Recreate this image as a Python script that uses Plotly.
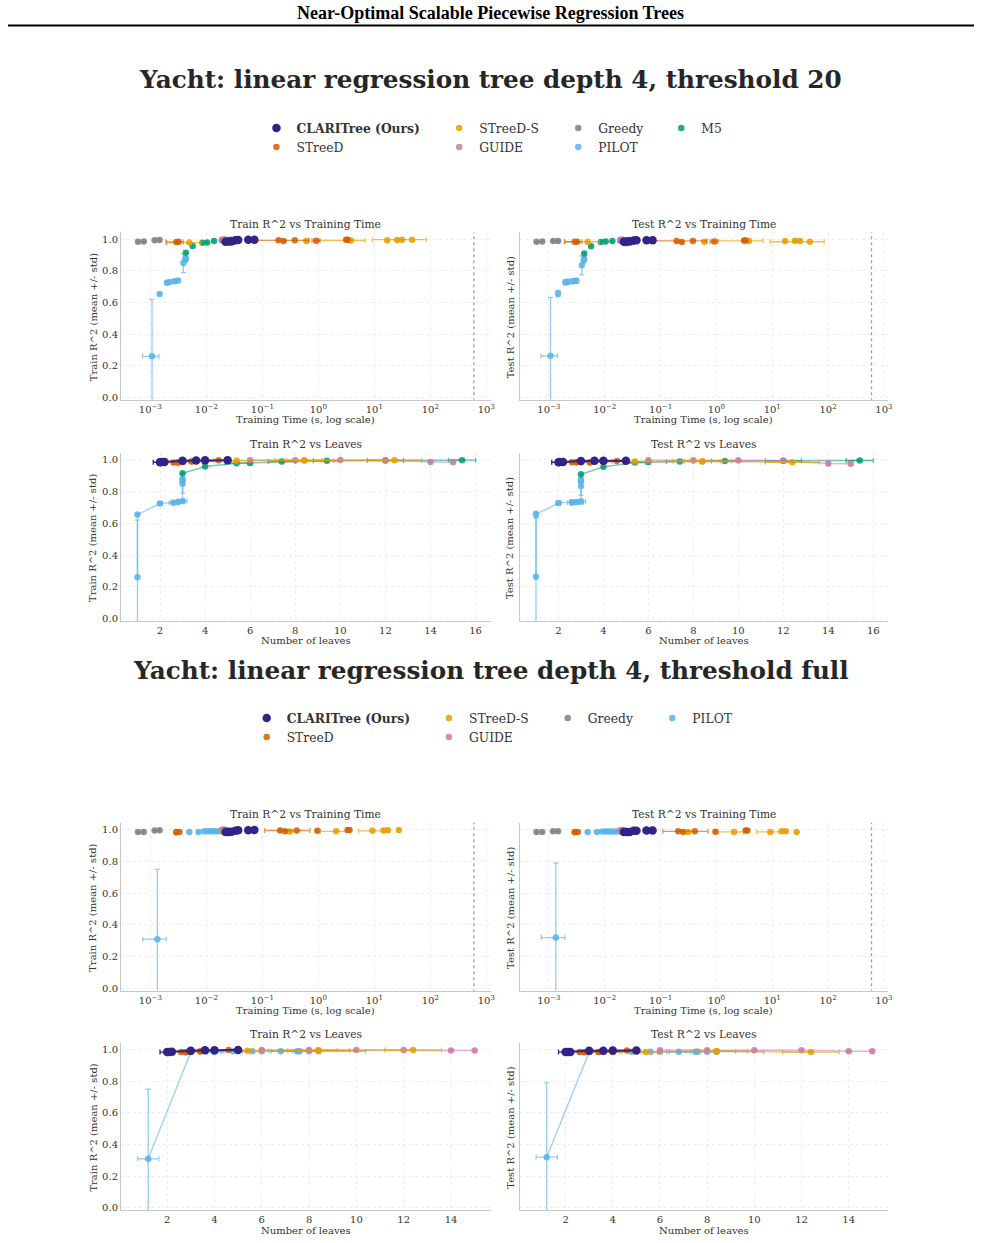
import plotly.graph_objects as go

W, H = 985, 1243

# ------------------------------------------------------------------
# Section 1: threshold 20  (leaves, leaves sd, time [s], time sd, train R2, sd, test R2, sd)
# ------------------------------------------------------------------
S1_CLARI_LEAVES = [2.0, 2.05, 2.2, 3.0, 3.6, 4.0, 5.0]
S1_CLARI_LEAVES_SD = [0.3, 0.0, 0.0, 0.0, 0.0, 0.0, 0.0]
S1_CLARI_TIME = [0.022, 0.025, 0.028, 0.033, 0.037, 0.056, 0.072]
S1_CLARI_TIME_SD = [0, 0, 0, 0, 0, 0, 0]
S1_CLARI_TRAIN = [0.985, 0.986, 0.987, 0.994, 0.996, 0.997, 0.998]
S1_CLARI_TRAIN_SD = [0, 0, 0, 0, 0, 0, 0]
S1_CLARI_TEST = [0.985, 0.986, 0.986, 0.993, 0.994, 0.995, 0.995]
S1_CLARI_TEST_SD = [0, 0, 0, 0, 0, 0, 0]

S1_STREED_LEAVES = [2.6, 2.8, 3.0, 3.4, 3.6, 4.0, 4.6, 5.0]
S1_STREED_LEAVES_SD = [0, 0, 0, 0, 0, 0, 0, 0]
S1_STREED_TIME = [0.0029, 0.0032, 0.194, 0.24, 0.38, 0.92, 3.13, 3.34]
S1_STREED_TIME_SD = [0.001, 0, 0, 0, 0.3, 0.15, 0, 0]
S1_STREED_TRAIN = [0.984, 0.985, 0.994, 0.99, 0.994, 0.992, 0.998, 0.998]
S1_STREED_TRAIN_SD = [0, 0, 0, 0, 0, 0, 0, 0]
S1_STREED_TEST = [0.985, 0.985, 0.99, 0.984, 0.99, 0.986, 0.993, 0.993]
S1_STREED_TEST_SD = [0, 0, 0, 0, 0, 0, 0, 0]

S1_STREEDS_LEAVES = [2.8, 3.0, 3.4, 4.0, 5.4, 8.4, 8.4, 12.4]
S1_STREEDS_LEAVES_SD = [0.3, 0, 0.3, 0.4, 0.5, 1.3, 0.8, 1.2]
S1_STREEDS_TIME = [0.00495, 0.031, 0.61, 3.83, 17.0, 25.6, 31.4, 47.2]
S1_STREEDS_TIME_SD = [0.003, 0, 0, 3.0, 0, 0, 0, 38.0]
S1_STREEDS_TRAIN = [0.98, 0.985, 0.99, 0.993, 0.995, 0.996, 0.997, 0.998]
S1_STREEDS_TRAIN_SD = [0, 0, 0, 0, 0, 0, 0, 0]
S1_STREEDS_TEST = [0.985, 0.985, 0.985, 0.99, 0.99, 0.992, 0.99, 0.985]
S1_STREEDS_TEST_SD = [0, 0, 0, 0, 0, 0, 0, 0]

S1_GUIDE_LEAVES = [6, 8, 10, 12, 14, 15]
S1_GUIDE_LEAVES_SD = [0, 0, 0, 0, 0, 0]
S1_GUIDE_TIME = [0.019, 0.020, 0.021, 0.022, 0.023, 0.024]
S1_GUIDE_TIME_SD = [0, 0, 0, 0, 0, 0]
S1_GUIDE_TRAIN = [0.998, 0.998, 0.999, 0.997, 0.987, 0.985]
S1_GUIDE_TRAIN_SD = [0, 0, 0, 0, 0.005, 0.005]
S1_GUIDE_TEST = [0.998, 0.998, 0.998, 0.995, 0.977, 0.975]
S1_GUIDE_TEST_SD = [0, 0, 0, 0, 0.01, 0.01]

S1_GREEDY_LEAVES = [2.0, 2.2, 3.0, 4.0]
S1_GREEDY_LEAVES_SD = [0, 0, 0, 0]
S1_GREEDY_TIME = [0.00060, 0.00076, 0.00119, 0.00146]
S1_GREEDY_TIME_SD = [0, 0, 0, 0]
S1_GREEDY_TRAIN = [0.985, 0.986, 0.995, 0.996]
S1_GREEDY_TRAIN_SD = [0, 0, 0, 0]
S1_GREEDY_TEST = [0.985, 0.986, 0.99, 0.99]
S1_GREEDY_TEST_SD = [0, 0, 0, 0]

S1_PILOT_LEAVES = [1.0, 1.0, 2.0, 2.6, 2.8, 3.0, 3.0, 3.0, 3.0]
S1_PILOT_LEAVES_SD = [0, 0, 0.1, 0.2, 0.3, 0.2, 0, 0, 0]
S1_PILOT_TIME = [0.00107, 0.00146, 0.00197, 0.00219, 0.00269, 0.00312, 0.00388, 0.0042, 0.0043]
S1_PILOT_TIME_SD = [0.00035, 0, 0, 0, 0, 0, 0, 0, 0]
S1_PILOT_TRAIN = [0.26, 0.655, 0.725, 0.73, 0.735, 0.74, 0.85, 0.87, 0.88]
S1_PILOT_TRAIN_SD = [0.36, 0.005, 0.01, 0.01, 0.01, 0.01, 0.06, 0.01, 0.01]
S1_PILOT_TEST = [0.263, 0.657, 0.728, 0.732, 0.735, 0.738, 0.836, 0.866, 0.874]
S1_PILOT_TEST_SD = [0.37, 0.02, 0.015, 0.015, 0.015, 0.015, 0.06, 0.01, 0.01]

S1_M5_LEAVES = [3, 4, 5.4, 6, 7.4, 9.4, 12, 15.4]
S1_M5_LEAVES_SD = [0, 0, 0.5, 0, 0.6, 0.6, 0.8, 0.6]
S1_M5_TIME = [0.0043, 0.0057, 0.0085, 0.0104, 0.0137, 0.019, 0.023, 0.028]
S1_M5_TIME_SD = [0, 0, 0, 0, 0, 0, 0, 0]
S1_M5_TRAIN = [0.916, 0.958, 0.979, 0.981, 0.99, 0.994, 0.996, 0.998]
S1_M5_TRAIN_SD = [0, 0, 0, 0, 0, 0, 0, 0]
S1_M5_TEST = [0.91, 0.956, 0.983, 0.986, 0.99, 0.993, 0.994, 0.996]
S1_M5_TEST_SD = [0, 0, 0, 0, 0, 0, 0, 0]

# ------------------------------------------------------------------
# Section 2: threshold full
# ------------------------------------------------------------------
S2_CLARI_LEAVES = [2.0, 2.1, 2.2, 3.0, 3.6, 4.0, 5.0]
S2_CLARI_LEAVES_SD = [0.3, 0.0, 0.0, 0.0, 0.0, 0.0, 0.0]
S2_CLARI_TIME = [0.022, 0.025, 0.028, 0.033, 0.037, 0.056, 0.072]
S2_CLARI_TIME_SD = [0, 0, 0, 0, 0, 0, 0]
S2_CLARI_TRAIN = [0.985, 0.986, 0.987, 0.994, 0.996, 0.997, 0.998]
S2_CLARI_TRAIN_SD = [0, 0, 0, 0, 0, 0, 0]
S2_CLARI_TEST = [0.985, 0.986, 0.986, 0.993, 0.994, 0.995, 0.995]
S2_CLARI_TEST_SD = [0, 0, 0, 0, 0, 0, 0]

S2_STREED_LEAVES = [2.6, 2.8, 3.0, 3.4, 3.6, 4.0, 4.6, 5.0]
S2_STREED_LEAVES_SD = [0, 0, 0, 0, 0, 0, 0, 0]
S2_STREED_TIME = [0.0029, 0.0033, 0.207, 0.254, 0.41, 0.96, 3.34, 3.6]
S2_STREED_TIME_SD = [0, 0, 0, 0, 0.3, 0, 0, 0]
S2_STREED_TRAIN = [0.985, 0.986, 0.995, 0.99, 0.995, 0.993, 0.998, 0.998]
S2_STREED_TRAIN_SD = [0, 0, 0, 0, 0, 0, 0, 0]
S2_STREED_TEST = [0.985, 0.986, 0.99, 0.986, 0.99, 0.987, 0.995, 0.995]
S2_STREED_TEST_SD = [0, 0, 0, 0, 0, 0, 0, 0]

S2_STREEDS_LEAVES = [2.8, 3.0, 3.4, 4.0, 5.4, 8.4, 8.4, 12.4]
S2_STREEDS_LEAVES_SD = [0.3, 0, 0.3, 0.4, 0.5, 1.3, 0.8, 1.2]
S2_STREEDS_TIME = [0.0029, 0.02, 0.31, 2.08, 9.25, 14.8, 17.5, 27.4]
S2_STREEDS_TIME_SD = [0, 0, 0, 1.0, 4.0, 0, 0, 0]
S2_STREEDS_TRAIN = [0.982, 0.985, 0.988, 0.99, 0.993, 0.995, 0.997, 0.998]
S2_STREEDS_TRAIN_SD = [0, 0, 0, 0, 0, 0, 0, 0]
S2_STREEDS_TEST = [0.984, 0.985, 0.985, 0.986, 0.986, 0.99, 0.99, 0.985]
S2_STREEDS_TEST_SD = [0, 0, 0, 0, 0, 0, 0, 0]

S2_GUIDE_LEAVES = [6, 8, 10, 12, 14, 15]
S2_GUIDE_LEAVES_SD = [0, 0, 0, 0, 0, 0]
S2_GUIDE_TIME = [0.019, 0.020, 0.021, 0.022, 0.023, 0.024]
S2_GUIDE_TIME_SD = [0, 0, 0, 0, 0, 0]
S2_GUIDE_TRAIN = [0.999, 0.999, 0.999, 0.999, 0.995, 0.995]
S2_GUIDE_TRAIN_SD = [0, 0, 0, 0, 0, 0]
S2_GUIDE_TEST = [0.997, 0.997, 0.997, 0.997, 0.99, 0.99]
S2_GUIDE_TEST_SD = [0, 0, 0, 0, 0, 0]

S2_GREEDY_LEAVES = [2.0, 2.2, 3.0, 4.0]
S2_GREEDY_LEAVES_SD = [0, 0, 0, 0]
S2_GREEDY_TIME = [0.00060, 0.00076, 0.00119, 0.00146]
S2_GREEDY_TIME_SD = [0, 0, 0, 0]
S2_GREEDY_TRAIN = [0.985, 0.986, 0.995, 0.996]
S2_GREEDY_TRAIN_SD = [0, 0, 0, 0]
S2_GREEDY_TEST = [0.985, 0.986, 0.99, 0.99]
S2_GREEDY_TEST_SD = [0, 0, 0, 0]

S2_PILOT_LEAVES = [1.2, 3.0, 4.0, 4.8, 5.6, 6.0, 6.8, 7.5, 7.6, 8.0, 8.4]
S2_PILOT_LEAVES_SD = [0.45, 0, 0.3, 0, 0.4, 0, 0.5, 0, 0.8, 0, 2.0]
S2_PILOT_TIME = [0.00133, 0.00495, 0.00724, 0.0091, 0.0104, 0.0116, 0.0128, 0.0147, 0.0168, 0.0192, 0.022]
S2_PILOT_TIME_SD = [0.0006, 0, 0, 0, 0, 0, 0, 0, 0, 0, 0]
S2_PILOT_TRAIN = [0.31, 0.985, 0.986, 0.99, 0.99, 0.99, 0.99, 0.99, 0.99, 0.99, 0.99]
S2_PILOT_TRAIN_SD = [0.44, 0, 0, 0, 0, 0, 0, 0, 0, 0, 0]
S2_PILOT_TEST = [0.32, 0.985, 0.985, 0.988, 0.988, 0.988, 0.988, 0.988, 0.988, 0.988, 0.988]
S2_PILOT_TEST_SD = [0.47, 0, 0, 0, 0, 0, 0, 0, 0, 0, 0]

TIME_LIMIT = 600  # dotted vertical reference line (s)

# tick labels
Y_TICKS = [0.0, 0.2, 0.4, 0.6, 0.8, 1.0]
Y_TICK_TEXT = ["0.0", "0.2", "0.4", "0.6", "0.8", "1.0"]
T_TICKS = [1e-3, 1e-2, 1e-1, 1e0, 1e1, 1e2, 1e3]
T_TICK_TEXT = ["10<sup>\u22123</sup>", "10<sup>\u22122</sup>", "10<sup>\u22121</sup>",
               "10<sup>0</sup>", "10<sup>1</sup>", "10<sup>2</sup>", "10<sup>3</sup>"]

# ------------------------------------------------------------------
COLORS = {
    "CLARITree": "#332288", "STreeD": "#D55E00", "STreeD-S": "#E69F00",
    "GUIDE": "#CC79A7", "Greedy": "#7F7F7F", "PILOT": "#56B4E9", "M5": "#009E73",
}
LABELS = {
    "CLARITree": "<b>CLARITree (Ours)</b>", "STreeD": "STreeD", "STreeD-S": "STreeD-S",
    "GUIDE": "GUIDE", "Greedy": "Greedy", "PILOT": "PILOT", "M5": "M5",
}
RANK = {"CLARITree": 1, "STreeD": 2, "STreeD-S": 3, "GUIDE": 4, "Greedy": 5, "PILOT": 6, "M5": 7}
DRAW_ORDER = ["Greedy", "PILOT", "M5", "GUIDE", "STreeD-S", "STreeD", "CLARITree"]

SEC1 = {
    "CLARITree": (S1_CLARI_LEAVES, S1_CLARI_LEAVES_SD, S1_CLARI_TIME, S1_CLARI_TIME_SD,
                  S1_CLARI_TRAIN, S1_CLARI_TRAIN_SD, S1_CLARI_TEST, S1_CLARI_TEST_SD),
    "STreeD": (S1_STREED_LEAVES, S1_STREED_LEAVES_SD, S1_STREED_TIME, S1_STREED_TIME_SD,
               S1_STREED_TRAIN, S1_STREED_TRAIN_SD, S1_STREED_TEST, S1_STREED_TEST_SD),
    "STreeD-S": (S1_STREEDS_LEAVES, S1_STREEDS_LEAVES_SD, S1_STREEDS_TIME, S1_STREEDS_TIME_SD,
                 S1_STREEDS_TRAIN, S1_STREEDS_TRAIN_SD, S1_STREEDS_TEST, S1_STREEDS_TEST_SD),
    "GUIDE": (S1_GUIDE_LEAVES, S1_GUIDE_LEAVES_SD, S1_GUIDE_TIME, S1_GUIDE_TIME_SD,
              S1_GUIDE_TRAIN, S1_GUIDE_TRAIN_SD, S1_GUIDE_TEST, S1_GUIDE_TEST_SD),
    "Greedy": (S1_GREEDY_LEAVES, S1_GREEDY_LEAVES_SD, S1_GREEDY_TIME, S1_GREEDY_TIME_SD,
               S1_GREEDY_TRAIN, S1_GREEDY_TRAIN_SD, S1_GREEDY_TEST, S1_GREEDY_TEST_SD),
    "PILOT": (S1_PILOT_LEAVES, S1_PILOT_LEAVES_SD, S1_PILOT_TIME, S1_PILOT_TIME_SD,
              S1_PILOT_TRAIN, S1_PILOT_TRAIN_SD, S1_PILOT_TEST, S1_PILOT_TEST_SD),
    "M5": (S1_M5_LEAVES, S1_M5_LEAVES_SD, S1_M5_TIME, S1_M5_TIME_SD,
           S1_M5_TRAIN, S1_M5_TRAIN_SD, S1_M5_TEST, S1_M5_TEST_SD),
}
SEC2 = {
    "CLARITree": (S2_CLARI_LEAVES, S2_CLARI_LEAVES_SD, S2_CLARI_TIME, S2_CLARI_TIME_SD,
                  S2_CLARI_TRAIN, S2_CLARI_TRAIN_SD, S2_CLARI_TEST, S2_CLARI_TEST_SD),
    "STreeD": (S2_STREED_LEAVES, S2_STREED_LEAVES_SD, S2_STREED_TIME, S2_STREED_TIME_SD,
               S2_STREED_TRAIN, S2_STREED_TRAIN_SD, S2_STREED_TEST, S2_STREED_TEST_SD),
    "STreeD-S": (S2_STREEDS_LEAVES, S2_STREEDS_LEAVES_SD, S2_STREEDS_TIME, S2_STREEDS_TIME_SD,
                 S2_STREEDS_TRAIN, S2_STREEDS_TRAIN_SD, S2_STREEDS_TEST, S2_STREEDS_TEST_SD),
    "GUIDE": (S2_GUIDE_LEAVES, S2_GUIDE_LEAVES_SD, S2_GUIDE_TIME, S2_GUIDE_TIME_SD,
              S2_GUIDE_TRAIN, S2_GUIDE_TRAIN_SD, S2_GUIDE_TEST, S2_GUIDE_TEST_SD),
    "Greedy": (S2_GREEDY_LEAVES, S2_GREEDY_LEAVES_SD, S2_GREEDY_TIME, S2_GREEDY_TIME_SD,
               S2_GREEDY_TRAIN, S2_GREEDY_TRAIN_SD, S2_GREEDY_TEST, S2_GREEDY_TEST_SD),
    "PILOT": (S2_PILOT_LEAVES, S2_PILOT_LEAVES_SD, S2_PILOT_TIME, S2_PILOT_TIME_SD,
              S2_PILOT_TRAIN, S2_PILOT_TRAIN_SD, S2_PILOT_TEST, S2_PILOT_TEST_SD),
}

LEGEND_MAP = [
    {"CLARITree": "legend", "STreeD": "legend", "STreeD-S": "legend2", "GUIDE": "legend2",
     "Greedy": "legend3", "PILOT": "legend3", "M5": "legend4"},
    {"CLARITree": "legend5", "STreeD": "legend5", "STreeD-S": "legend6", "GUIDE": "legend6",
     "Greedy": "legend7", "PILOT": "legend8"},
]


def rgba(hexc, a):
    h = hexc.lstrip("#")
    return "rgba(%d,%d,%d,%s)" % (int(h[0:2], 16), int(h[2:4], 16), int(h[4:6], 16), a)


FONT = "DejaVu Serif"
TXT = "#333333"

fig = go.Figure()

# axis index layout per section: base+0 train-time, +1 test-time, +2 train-leaves, +3 test-leaves
for s, sec in enumerate([SEC1, SEC2]):
    base = 1 + 4 * s
    # time-limit dotted lines
    for k in (0, 1):
        ax = base + k
        fig.add_trace(go.Scatter(x=[TIME_LIMIT, TIME_LIMIT], y=[-0.1, 1.2], mode="lines",
                                 line=dict(color="#a0a0a0", width=1.3, dash="dot"),
                                 xaxis="x%d" % ax, yaxis="y%d" % ax, showlegend=False,
                                 hoverinfo="skip"))
    for m in DRAW_ORDER:
        if m not in sec:
            continue
        lv, lvsd, tm, tmsd, tr, trsd, te, tesd = sec[m]
        col = COLORS[m]
        is_main = m == "CLARITree"
        msize = 8.5 if is_main else 6.5
        mcol = col if is_main else rgba(col, 0.85)
        ecol = col if is_main else rgba(col, 0.65)
        lcol = col if is_main else rgba(col, 0.55)
        lw = 2.0 if is_main else 1.5
        # time plots
        for k, (yv, ysd) in enumerate([(tr, trsd), (te, tesd)]):
            ax = base + k
            fig.add_trace(go.Scatter(
                x=tm, y=yv, mode="markers",
                marker=dict(color=mcol, size=msize, line=dict(width=0)),
                error_x=dict(type="data", array=tmsd, color=ecol, thickness=1.3, width=2.5),
                error_y=dict(type="data", array=ysd, color=ecol, thickness=1.3, width=2.5),
                xaxis="x%d" % ax, yaxis="y%d" % ax,
                name=LABELS[m], legend=LEGEND_MAP[s][m], legendrank=RANK[m],
                showlegend=(k == 0)))
        # leaves plots
        order = sorted(range(len(lv)), key=lambda i: lv[i])
        for k, (yv, ysd) in enumerate([(tr, trsd), (te, tesd)]):
            ax = base + 2 + k
            fig.add_trace(go.Scatter(
                x=[lv[i] for i in order], y=[yv[i] for i in order], mode="lines+markers",
                line=dict(color=lcol, width=lw),
                marker=dict(color=mcol, size=msize, line=dict(width=0)),
                error_x=dict(type="data", array=[lvsd[i] for i in order], color=ecol,
                             thickness=1.3, width=2.5),
                error_y=dict(type="data", array=[ysd[i] for i in order], color=ecol,
                             thickness=1.3, width=2.5),
                xaxis="x%d" % ax, yaxis="y%d" % ax, name=LABELS[m], showlegend=False))

# ------------------------------------------------------------------
# Axes
# ------------------------------------------------------------------
XL = (121.5, 492.5)
XR = (521.7, 891.7)
ROWS = [(233.0, 400.7), (454.0, 622.4), (824.7, 993.1), (1045.3, 1213.1)]
Y_RANGE = [-0.015, 1.044]
T_RANGE = [-3.525, 3.075]
L_RANGES = [[0.27, 16.66], [0.05, 15.67]]


def xdom(a, b):
    return [a / W, b / W]


def ydom(top, bottom):
    return [1 - bottom / H, 1 - top / H]


layout = {}
annotations = []
titles = [("Train R^2 vs Training Time", "Test R^2 vs Training Time", "Training Time (s, log scale)"),
          ("Train R^2 vs Leaves", "Test R^2 vs Leaves", "Number of leaves")]
for s in range(2):
    for r in range(2):
        top, bot = ROWS[2 * s + r]
        for c in range(2):
            ax = 1 + 4 * s + 2 * r + c
            xd = XL if c == 0 else XR
            xa = dict(domain=xdom(*xd), anchor="y%d" % ax, showline=True, linecolor="#c8c8c8",
                      linewidth=1, mirror=False, zeroline=False, showgrid=True,
                      gridcolor="#ededed", griddash="dot", gridwidth=0.8,
                      ticks="", tickfont=dict(family=FONT, size=10, color=TXT))
            if r == 0:
                xa.update(type="log", range=T_RANGE, tickvals=T_TICKS, ticktext=T_TICK_TEXT)
            else:
                xa.update(type="linear", range=L_RANGES[s], tick0=0, dtick=2)
            ya = dict(domain=ydom(top, bot), anchor="x%d" % ax, range=Y_RANGE, showline=True,
                      linecolor="#c8c8c8", linewidth=1, mirror=False, zeroline=False,
                      showgrid=True, gridcolor="#ededed", griddash="dot", gridwidth=0.8,
                      tickvals=Y_TICKS, ticktext=Y_TICK_TEXT, ticks="",
                      showticklabels=(c == 0),
                      tickfont=dict(family=FONT, size=10, color=TXT))
            layout["xaxis%d" % ax] = xa
            layout["yaxis%d" % ax] = ya
            cx = (xd[0] + xd[1]) / 2
            # subplot title
            annotations.append(dict(text=titles[r][c], x=cx / W, y=1 - (top - 8) / H,
                                    xref="paper", yref="paper", showarrow=False,
                                    xanchor="center", yanchor="middle",
                                    font=dict(family=FONT, size=10.7, color=TXT)))
            # x axis title
            annotations.append(dict(text=titles[r][2], x=cx / W, y=1 - (bot + 20) / H,
                                    xref="paper", yref="paper", showarrow=False,
                                    xanchor="center", yanchor="middle",
                                    font=dict(family=FONT, size=10, color=TXT)))
            # y axis title
            ytxt = ("Train" if c == 0 else "Test") + " R^2 (mean +/- std)"
            yx = 93.5 if c == 0 else 512.3
            annotations.append(dict(text=ytxt, x=yx / W, y=1 - ((top + bot) / 2 + 1) / H,
                                    xref="paper", yref="paper", showarrow=False, textangle=-90,
                                    xanchor="center", yanchor="middle",
                                    font=dict(family=FONT, size=10, color=TXT)))

# header and section titles
annotations.append(dict(text="<b>Near-Optimal Scalable Piecewise Regression Trees</b>",
                        x=493 / W, y=1 - 13.5 / H, xref="paper", yref="paper", showarrow=False,
                        xanchor="center", yanchor="middle",
                        font=dict(family="Liberation Serif", size=18, color="#000000")))
annotations.append(dict(text="<b>Yacht: linear regression tree depth 4, threshold 20</b>",
                        x=492.5 / W, y=1 - 80 / H, xref="paper", yref="paper", showarrow=False,
                        xanchor="center", yanchor="middle",
                        font=dict(family=FONT, size=24.7, color="#262626")))
annotations.append(dict(text="<b>Yacht: linear regression tree depth 4, threshold full</b>",
                        x=492.5 / W, y=1 - 672 / H, xref="paper", yref="paper", showarrow=False,
                        xanchor="center", yanchor="middle",
                        font=dict(family=FONT, size=24.7, color="#262626")))

# legends (one per column)
LEG_TEXT_X = [[297.5, 481.0, 600.5, 704.0], [287.7, 470.7, 590.0, 695.0]]
LEG_ROW_Y = [127.7, 719.3]
names = ["legend", "legend2", "legend3", "legend4", "legend5", "legend6", "legend7", "legend8"]
for s in range(2):
    for c in range(4):
        nm = names[4 * s + c]
        layout[nm] = dict(x=(LEG_TEXT_X[s][c] - 40) / W, y=1 - (LEG_ROW_Y[s] - 14) / H,
                          xanchor="left", yanchor="top", orientation="v",
                          bgcolor="rgba(0,0,0,0)", borderwidth=0, tracegroupgap=0,
                          font=dict(family=FONT, size=12.3, color=TXT))

layout["shapes"] = [dict(type="line", xref="paper", yref="paper", x0=8 / W, x1=978 / W,
                         y0=1 - 25.5 / H, y1=1 - 25.5 / H, line=dict(color="#000000", width=2))]
layout["annotations"] = annotations

fig.update_layout(width=W, height=H, margin=dict(l=0, r=0, t=0, b=0),
                  paper_bgcolor="white", plot_bgcolor="white", **layout)

fig.write_html("out.html")
